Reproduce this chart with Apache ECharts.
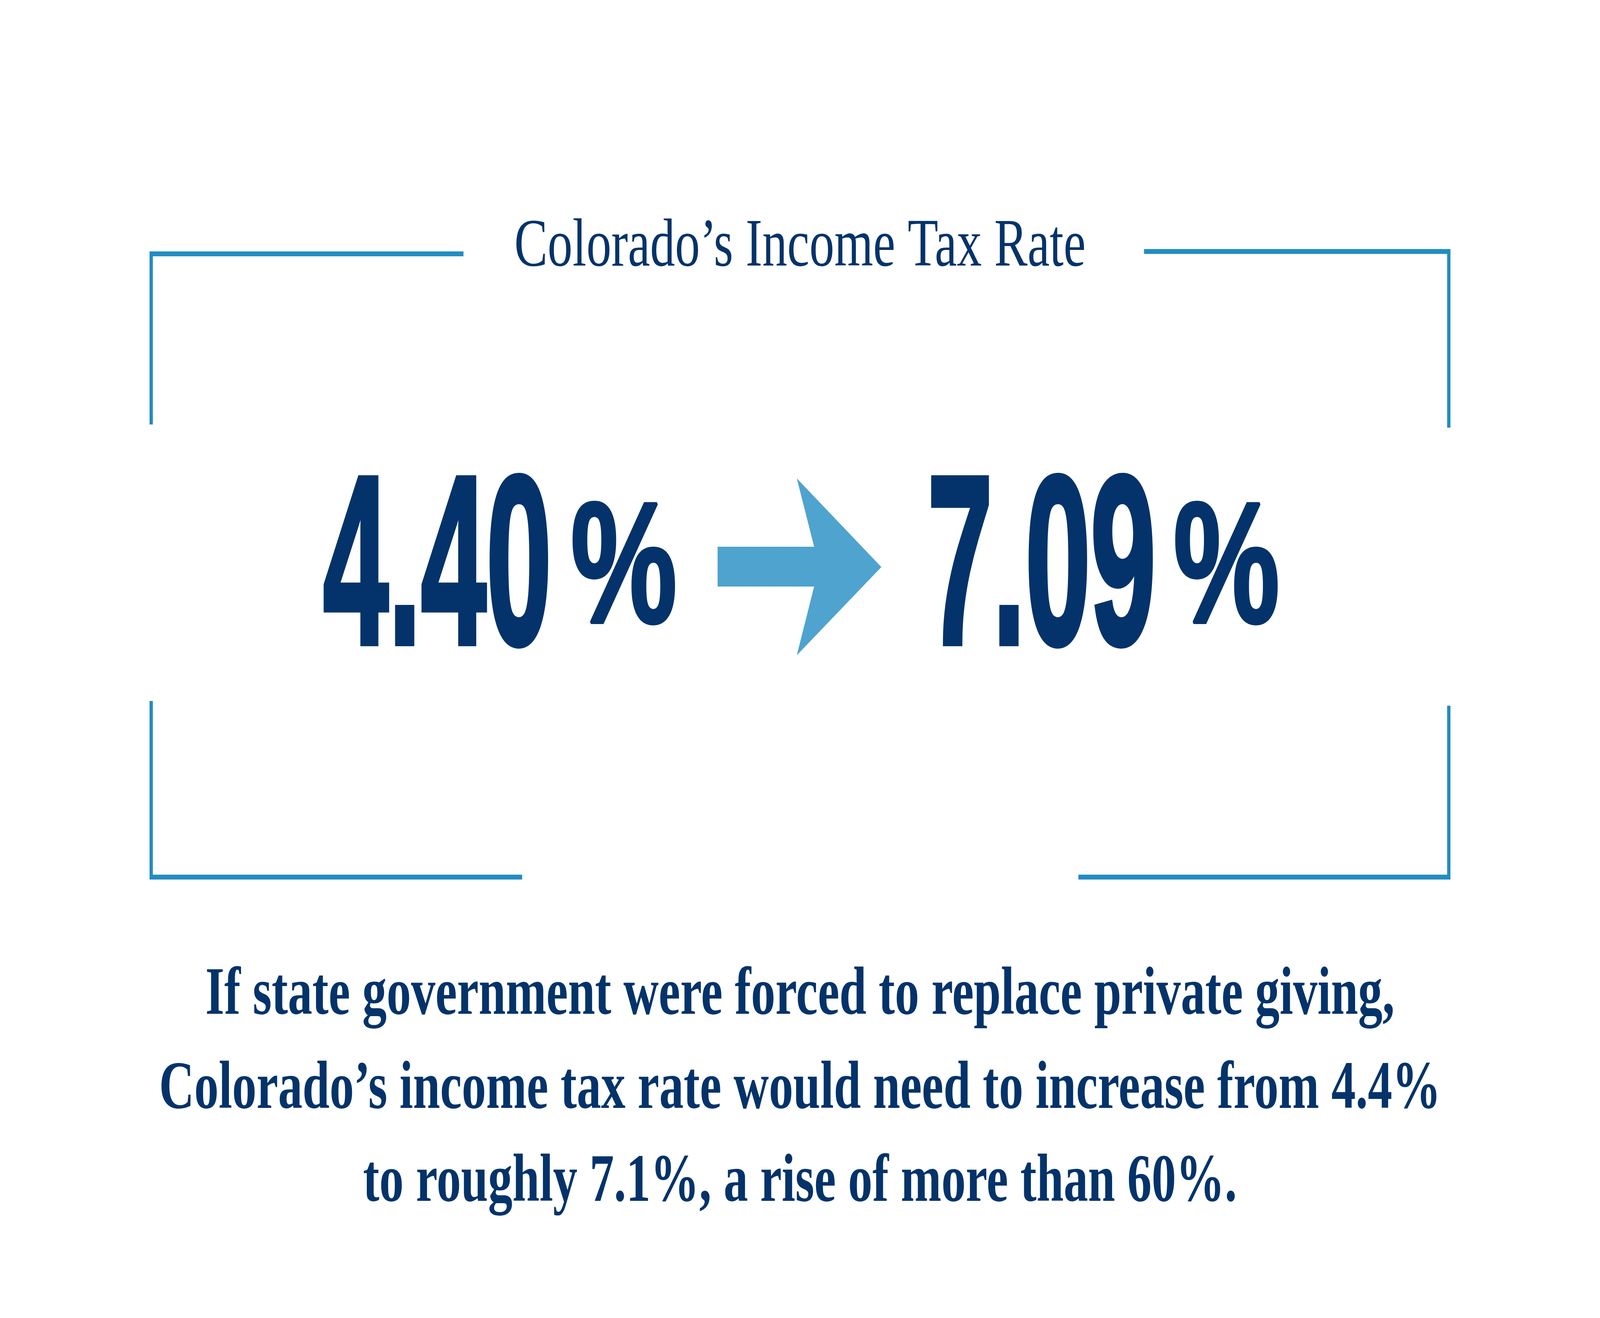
<!DOCTYPE html>
<html>
<head>
<meta charset="utf-8">
<script src="https://cdn.jsdelivr.net/npm/echarts@6/dist/echarts.min.js"></script>
<style>
  html, body { margin: 0; padding: 0; background: #fff; width: 100%; height: 100%; overflow: hidden; }
  #main { width: 100vw; height: 100vh; }
</style>
</head>
<body>
<div id="main"></div>
<script>
const titleText = 'Colorado’s Income Tax Rate';
const rates = [4.40, 7.09];
const rateX = [1212, 3478];
const pctX = [2140, 4400];
const noteLines = [
  'If state government were forced to replace private giving,',
  'Colorado’s income tax rate would need to increase from 4.4%',
  'to roughly 7.1%, a rise of more than 60%.'
];

const navy = '#03336a';
const frameBlue = '#228cc1';
const arrowBlue = '#4fa3cf';

const frameLine = points => ({
  type: 'polyline',
  shape: { points: points },
  style: { stroke: frameBlue, lineWidth: 12.5, fill: null, lineJoin: 'miter', lineCap: 'butt' }
});

// everything is laid out on a 6000 x 3375 design grid, then scaled to the view
const children = [
  frameLine([[1738, 650], [567, 650], [567, 1087]]),
  frameLine([[4290, 644], [5433, 644], [5433, 1095]]),
  frameLine([[567, 1795], [567, 2246], [1958, 2246]]),
  frameLine([[4044, 2246], [5433, 2246], [5433, 1807]]),
  {
    type: 'text', x: 3000, y: 634, scaleX: 1.075,
    style: { text: titleText, fill: navy, font: '174px "Liberation Serif"',
      textAlign: 'center', align: 'center', textVerticalAlign: 'middle', verticalAlign: 'middle' }
  },
  {
    type: 'polygon',
    shape: { points: [[2691, 1400], [3053, 1400], [2988, 1225], [3305, 1452], [2988, 1678], [3053, 1502], [2691, 1502]] },
    style: { fill: arrowBlue }
  }
];

rates.forEach((v, i) => {
  children.push({
    type: 'text', x: rateX[i], y: 1478, scaleX: 1.0, scaleY: 1.4,
    style: { text: v.toFixed(2), fill: navy, font: 'bold 440px "Liberation Sans"',
      stroke: navy, lineWidth: 10,
      textAlign: 'left', align: 'left', textVerticalAlign: 'middle', verticalAlign: 'middle' }
  });
  children.push({
    type: 'text', x: pctX[i], y: 1472, scaleX: 1.36, scaleY: 1.34,
    style: { text: '%', fill: navy, font: 'bold 330px "Liberation Sans"',
      stroke: navy, lineWidth: 6,
      textAlign: 'left', align: 'left', textVerticalAlign: 'middle', verticalAlign: 'middle' }
  });
});

const noteY = [2551, 2792, 3030];
noteLines.forEach((line, i) => {
  children.push({
    type: 'text', x: 3000, y: noteY[i], scaleX: 1.05,
    style: { text: line, fill: navy, font: 'bold 174px "Liberation Serif"',
      textAlign: 'center', align: 'center', textVerticalAlign: 'middle', verticalAlign: 'middle' }
  });
});

const chart = echarts.init(document.getElementById('main'));
const sx = chart.getWidth() / 6000;
const sy = chart.getHeight() / 3375;
chart.setOption({
  backgroundColor: '#fff',
  animation: false,
  graphic: {
    elements: [{ type: 'group', x: 0, y: 0, scaleX: sx, scaleY: sy, children: children }]
  }
});
window.addEventListener('resize', function () {
  chart.resize();
});
</script>
</body>
</html>
